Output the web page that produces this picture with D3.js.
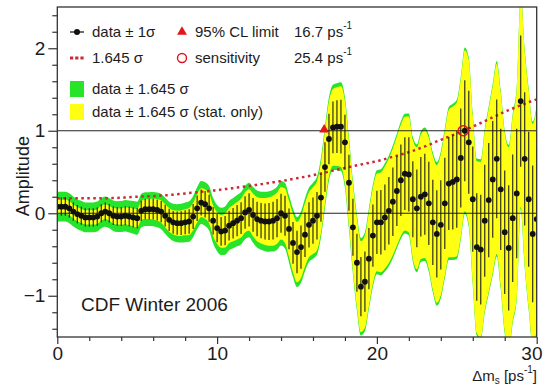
<!DOCTYPE html>
<html>
<head>
<meta charset="utf-8">
<script src="https://cdn.jsdelivr.net/npm/d3@7/dist/d3.min.js"></script>
<style>
  body { margin: 0; background: #fff; }
  svg { display: block; }
  text { font-family: "Liberation Sans", Arial, Helvetica, sans-serif; fill: #1c1c1c; }
</style>
</head>
<body>
<svg id="chart" width="543" height="387"></svg>
<script>
// Oscillation frequency scan points, ps^-1
const dms = [
  0, 0.25, 0.5, 0.75, 1, 1.25, 1.5, 1.75, 2, 2.25, 2.5, 2.75,
  3, 3.25, 3.5, 3.75, 4, 4.25, 4.5, 4.75, 5, 5.25, 5.5, 5.75,
  6, 6.25, 6.5, 6.75, 7, 7.25, 7.5, 7.75, 8, 8.25, 8.5, 8.75,
  9, 9.25, 9.5, 9.75, 10, 10.25, 10.5, 10.75, 11, 11.25, 11.5, 11.75,
  12, 12.25, 12.5, 12.75, 13, 13.25, 13.5, 13.75, 14, 14.25, 14.5, 14.75,
  15, 15.25, 15.5, 15.75, 16, 16.25, 16.5, 16.75, 17, 17.25, 17.5, 17.75,
  18, 18.25, 18.5, 18.75, 19, 19.25, 19.5, 19.75, 20, 20.25, 20.5, 20.75,
  21, 21.25, 21.5, 21.75, 22, 22.25, 22.5, 22.75, 23, 23.25, 23.5, 23.75,
  24, 24.25, 24.5, 24.75, 25, 25.25, 25.5, 25.75, 26, 26.25, 26.5, 26.75,
  27, 27.25, 27.5, 27.75, 28, 28.25, 28.5, 28.75, 29, 29.25, 29.5, 29.75,
  30
];

// Fitted amplitude at each scan point
const amplitude = [
  0.08, 0.08, 0.08, 0.06, 0.02, -0.01, -0.03, -0.05, -0.05, -0.05, -0.04, 0.00,
  0.02, 0.00, -0.03, -0.04, -0.04, -0.03, -0.04, -0.05, -0.06, 0.03, 0.05, 0.05,
  0.05, 0.04, 0.02, -0.03, -0.08, -0.11, -0.12, -0.12, -0.11, -0.10, -0.04, 0.06,
  0.13, 0.11, 0.06, -0.09, -0.18, -0.22, -0.21, -0.15, -0.12, -0.09, -0.06, 0.01,
  0.04, -0.02, -0.07, -0.09, -0.10, -0.10, -0.09, -0.06, 0.00, -0.03, -0.19, -0.36,
  -0.47, -0.41, -0.26, -0.14, -0.09, -0.03, 0.19, 0.56, 0.90, 1.04, 1.05, 1.05,
  0.86, 0.37, -0.17, -0.60, -0.89, -0.83, -0.55, -0.27, -0.11, -0.11, -0.05, 0.03,
  0.14, 0.27, 0.40, 0.48, 0.47, 0.17, 0.06, 0.20, 0.23, 0.12, -0.11, -0.25,
  -0.14, 0.12, 0.36, 0.38, 0.41, 0.67, 1.00, 0.86, 0.17, -0.41, -0.44, -0.09,
  0.16, 0.41, 0.66, 0.29, -0.23, -0.42, -0.06, 0.24, 1.36, 0.66, 0.17, -0.25,
  -0.07
];

// Total 1-sigma uncertainty (stat + syst)
const sigmaTot = [
  0.110, 0.110, 0.110, 0.110, 0.110, 0.110, 0.110, 0.110, 0.110, 0.110, 0.110, 0.110,
  0.111, 0.111, 0.112, 0.113, 0.114, 0.116, 0.118, 0.120, 0.122, 0.123, 0.124, 0.125,
  0.126, 0.128, 0.130, 0.132, 0.134, 0.137, 0.140, 0.143, 0.146, 0.149, 0.152, 0.155,
  0.158, 0.161, 0.164, 0.167, 0.170, 0.174, 0.178, 0.181, 0.185, 0.189, 0.193, 0.197,
  0.201, 0.205, 0.210, 0.214, 0.219, 0.223, 0.228, 0.232, 0.237, 0.242, 0.247, 0.253,
  0.258, 0.263, 0.269, 0.274, 0.280, 0.287, 0.293, 0.300, 0.307, 0.314, 0.320, 0.327,
  0.334, 0.340, 0.346, 0.353, 0.359, 0.365, 0.371, 0.377, 0.383, 0.391, 0.399, 0.408,
  0.416, 0.424, 0.433, 0.441, 0.450, 0.460, 0.471, 0.481, 0.492, 0.504, 0.516, 0.529,
  0.541, 0.553, 0.564, 0.576, 0.587, 0.600, 0.613, 0.625, 0.638, 0.652, 0.665, 0.679,
  0.693, 0.707, 0.720, 0.734, 0.748, 0.760, 0.772, 0.784, 0.796, 0.807, 0.818, 0.828,
  0.839
];

// Statistical-only 1-sigma uncertainty
const sigmaStat = [
  0.052, 0.052, 0.052, 0.052, 0.052, 0.052, 0.052, 0.052, 0.053, 0.053, 0.054, 0.055,
  0.055, 0.056, 0.058, 0.059, 0.060, 0.062, 0.064, 0.066, 0.068, 0.070, 0.073, 0.075,
  0.077, 0.080, 0.082, 0.085, 0.087, 0.089, 0.092, 0.094, 0.096, 0.099, 0.101, 0.104,
  0.106, 0.108, 0.111, 0.113, 0.116, 0.120, 0.124, 0.129, 0.133, 0.138, 0.143, 0.148,
  0.153, 0.158, 0.163, 0.168, 0.173, 0.178, 0.184, 0.189, 0.194, 0.201, 0.208, 0.215,
  0.222, 0.228, 0.234, 0.240, 0.246, 0.254, 0.261, 0.269, 0.276, 0.283, 0.290, 0.297,
  0.304, 0.312, 0.319, 0.327, 0.334, 0.340, 0.347, 0.353, 0.360, 0.368, 0.377, 0.385,
  0.393, 0.402, 0.410, 0.419, 0.428, 0.438, 0.449, 0.459, 0.470, 0.482, 0.495, 0.507,
  0.519, 0.531, 0.543, 0.555, 0.567, 0.580, 0.593, 0.606, 0.619, 0.633, 0.646, 0.660,
  0.674, 0.688, 0.701, 0.715, 0.729, 0.741, 0.753, 0.765, 0.778, 0.789, 0.800, 0.811,
  0.822
];

const limit95 = 16.7;      // 95% CL lower limit, ps^-1
const sensitivity = 25.4;  // sensitivity, ps^-1
const nSigma = 1.645;

const xMajor = [0, 10, 20, 30];
const xMinor = [2, 4, 6, 8, 12, 14, 16, 18, 22, 24, 26, 28];
const yMajor = [-1, 0, 1, 2];
const yMinor = [-1.4, -1.2, -0.8, -0.6, -0.4, -0.2, 0.2, 0.4, 0.6, 0.8,
                1.2, 1.4, 1.6, 1.8, 2.2, 2.4];

const C = {
  green: "#27e32a",
  yellow: "#ffff14",
  red: "#c92a36",
  tri: "#e3141c",
  ink: "#1c1c1c"
};

const svg = d3.select("#chart");
const x = d3.scaleLinear().domain([0, 30]).range([57.3, 536.7]);
const y = d3.scaleLinear().domain([-1.5, 2.5]).range([337, 7]);

const pts = dms.map((d, i) => ({
  x: d, a: amplitude[i], st: sigmaTot[i], ss: sigmaStat[i]
}));

svg.append("clipPath").attr("id", "plot")
  .append("rect")
  .attr("x", x(0)).attr("y", y(2.5))
  .attr("width", x(30) - x(0)).attr("height", y(-1.5) - y(2.5));

const plot = svg.append("g").attr("clip-path", "url(#plot)");

const band = k => d3.area()
  .x(d => x(d.x))
  .y0(d => y(d.a - nSigma * d[k]))
  .y1(d => y(d.a + nSigma * d[k]))
  .curve(d3.curveMonotoneX);

plot.append("path").datum(pts).attr("d", band("st")).attr("fill", C.green);
plot.append("path").datum(pts).attr("d", band("ss")).attr("fill", C.yellow);

// reference lines at A = 0 and A = 1
plot.selectAll("line.ref").data([0, 1]).join("line")
  .attr("class", "ref")
  .attr("x1", x(0)).attr("x2", x(30))
  .attr("y1", d => y(d)).attr("y2", d => y(d))
  .attr("stroke", "#222").attr("stroke-width", 1.2);

// 1.645 sigma curve
plot.append("path").datum(pts)
  .attr("d", d3.line().x(d => x(d.x)).y(d => y(nSigma * d.st)).curve(d3.curveMonotoneX))
  .attr("fill", "none").attr("stroke", C.red).attr("stroke-width", 2.5)
  .attr("stroke-dasharray", "2.5,3.5");

// error bars
plot.selectAll("line.err").data(pts).join("line")
  .attr("class", "err")
  .attr("x1", d => x(d.x)).attr("x2", d => x(d.x))
  .attr("y1", d => y(d.a - d.st)).attr("y2", d => y(d.a + d.st))
  .attr("stroke", C.ink).attr("stroke-width", 1.1);

plot.selectAll("circle.pt").data(pts).join("circle")
  .attr("class", "pt")
  .attr("cx", d => x(d.x)).attr("cy", d => y(d.a)).attr("r", 2.9)
  .attr("fill", "#111");

// limit and sensitivity markers
svg.append("path")
  .attr("d", d3.symbol(d3.symbolTriangle, 42)())
  .attr("transform", `translate(${x(limit95)},${y(1) - 1})`)
  .attr("fill", C.tri);
svg.append("circle")
  .attr("cx", x(sensitivity)).attr("cy", y(1)).attr("r", 5)
  .attr("fill", "none").attr("stroke", C.tri).attr("stroke-width", 1.5);

// frame
svg.append("rect")
  .attr("x", x(0)).attr("y", y(2.5))
  .attr("width", x(30) - x(0)).attr("height", y(-1.5) - y(2.5))
  .attr("fill", "none").attr("stroke", "#333").attr("stroke-width", 1.3);

// axes
const styleAxis = g => {
  g.select(".domain").remove();
  g.selectAll(".tick line").attr("stroke", "#333").attr("stroke-width", 1.2);
  g.selectAll(".tick text")
    .attr("font-family", "Liberation Sans, Arial, sans-serif")
    .attr("font-size", 19).attr("fill", C.ink);
};
svg.append("g").attr("transform", `translate(${x(0)},0)`)
  .call(d3.axisLeft(y).tickValues(yMinor).tickSize(5).tickFormat(""))
  .call(styleAxis);
svg.append("g").attr("transform", `translate(${x(0)},0)`)
  .call(d3.axisLeft(y).tickValues(yMajor).tickSize(9).tickPadding(3).tickFormat(d3.format("d")))
  .call(styleAxis);
svg.append("g").attr("transform", `translate(0,${y(-1.5)})`)
  .call(d3.axisBottom(x).tickValues(xMinor).tickSize(4).tickFormat(""))
  .call(styleAxis);
const xAx = svg.append("g").attr("transform", `translate(0,${y(-1.5)})`)
  .call(d3.axisBottom(x).tickValues(xMajor).tickSize(7).tickPadding(3).tickFormat(d3.format("d")))
  .call(styleAxis);
// keep the last label inside the page edge
xAx.selectAll(".tick text").filter(d => d === 30)
  .attr("text-anchor", "end").attr("x", 542 - x(30));

// axis titles
svg.append("text")
  .attr("transform", `translate(29,${y(0.45)}) rotate(-90)`)
  .attr("text-anchor", "middle").attr("font-size", 18)
  .text("Amplitude");

const xt = svg.append("text")
  .attr("x", 537).attr("y", 381).attr("text-anchor", "end").attr("font-size", 15);
xt.append("tspan").text("Δm");
xt.append("tspan").attr("font-size", 10).attr("dy", 3).text("s");
xt.append("tspan").attr("dy", -3).text(" [ps");
xt.append("tspan").attr("font-size", 10).attr("dy", -8).text("-1");
xt.append("tspan").attr("dy", 8).text("]");

svg.append("text").attr("x", 81).attr("y", 311).attr("font-size", 19)
  .text("CDF Winter 2006");

// legend
const lg = svg.append("g").attr("font-size", 15);
const row = [32, 58, 89, 112];
const tx = 92;

lg.append("line").attr("x1", 70).attr("x2", 84).attr("y1", row[0]).attr("y2", row[0])
  .attr("stroke", C.ink).attr("stroke-width", 1.3);
lg.append("circle").attr("cx", 77).attr("cy", row[0]).attr("r", 3).attr("fill", "#111");
lg.append("text").attr("x", tx).attr("y", row[0] + 5).text("data ± 1σ");

lg.append("line").attr("x1", 70).attr("x2", 84).attr("y1", row[1]).attr("y2", row[1])
  .attr("stroke", C.red).attr("stroke-width", 3.2).attr("stroke-dasharray", "3.2,2");
lg.append("text").attr("x", tx).attr("y", row[1] + 5).text("1.645 σ");

lg.append("rect").attr("x", 70).attr("y", row[2] - 8).attr("width", 14).attr("height", 16)
  .attr("fill", C.green);
lg.append("text").attr("x", tx).attr("y", row[2] + 5).text("data ± 1.645 σ");

lg.append("rect").attr("x", 70).attr("y", row[3] - 8).attr("width", 14).attr("height", 16)
  .attr("fill", C.yellow);
lg.append("text").attr("x", tx).attr("y", row[3] + 5).text("data ± 1.645 σ (stat. only)");

lg.append("path").attr("d", d3.symbol(d3.symbolTriangle, 42)())
  .attr("transform", `translate(182,${row[0]})`).attr("fill", C.tri);
lg.append("text").attr("x", 195).attr("y", row[0] + 5).text("95% CL limit");
lg.append("circle").attr("cx", 182).attr("cy", row[1]).attr("r", 4.5)
  .attr("fill", "none").attr("stroke", C.tri).attr("stroke-width", 1.4);
lg.append("text").attr("x", 195).attr("y", row[1] + 5).text("sensitivity");

[[limit95, row[0]], [sensitivity, row[1]]].forEach(([v, yy]) => {
  const t = lg.append("text").attr("x", 294).attr("y", yy + 5);
  t.append("tspan").text(d3.format(".1f")(v) + " ps");
  t.append("tspan").attr("font-size", 10).attr("dy", -8).text("-1");
});
</script>
</body>
</html>
